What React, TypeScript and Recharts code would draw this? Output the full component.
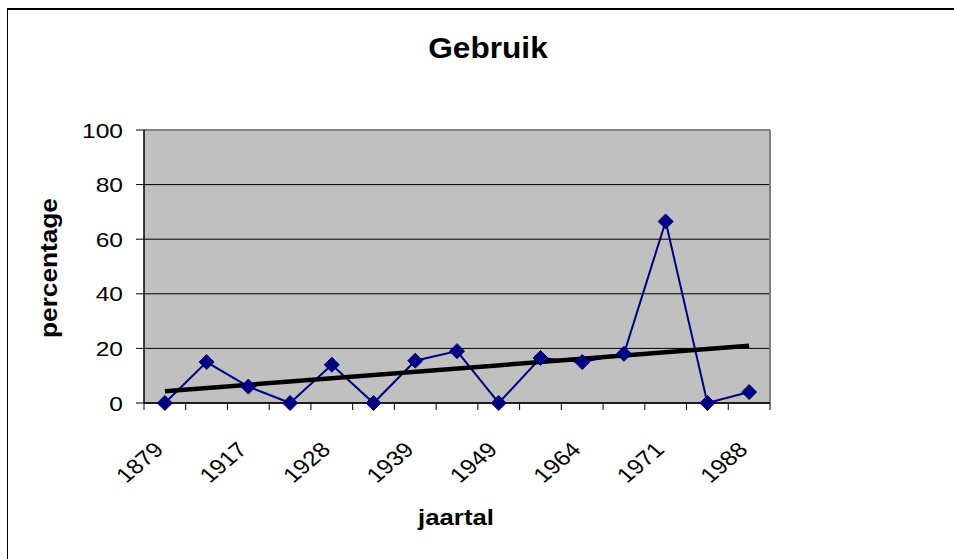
import React from "react";
import { ComposedChart, Line, XAxis, YAxis, CartesianGrid, ReferenceLine } from "recharts";

const categories = ["1879", "1905", "1917", "1922", "1928", "1934", "1939", "1945", "1949", "1958", "1964", "1968", "1971", "1980", "1988"];
const gebruik = [0, 15, 6, 0, 14, 0, 15.5, 19, 0, 16.5, 15, 18, 66.5, 0, 4];
const yTicks = [0, 20, 40, 60, 80, 100];
const labelIdx = [0, 2, 4, 6, 8, 10, 12, 14];

const n = gebruik.length;
const mx = (n - 1) / 2;
const my = gebruik.reduce((a, b) => a + b, 0) / n;
let sxy = 0, sxx = 0;
gebruik.forEach((y, i) => { sxy += (i - mx) * (y - my); sxx += (i - mx) * (i - mx); });
const slope = sxy / sxx;
const icpt = my - slope * mx;

const data = categories.map((c, i) => ({
  i,
  name: c,
  v: gebruik[i],
  trend: i === 0 || i === n - 1 ? icpt + slope * i : undefined,
}));

const boundaryTicks = Array.from({ length: n + 1 }, (_, k) => k - 0.5);
const xTicks = [...boundaryTicks, ...labelIdx].sort((a, b) => a - b);
const FONT = "Arial, 'Liberation Sans', sans-serif";
const SX = 1.17;

const Diamond = (props: any) => {
  const { cx, cy } = props;
  if (cx == null || cy == null) return null;
  const r = 7.5;
  return <path key={`d${props.index}`} d={`M${cx},${cy - r}L${cx + r},${cy}L${cx},${cy + r}L${cx - r},${cy}Z`} fill="#000080" stroke="#000080" />;
};

const XTick = (props: any) => {
  const { x, y, payload } = props;
  const v = payload.value;
  if (Math.abs(v - Math.round(v)) > 0.1) {
    return <line x1={x} y1={y} x2={x} y2={y + 7} stroke="#000" strokeWidth={1} />;
  }
  const ax = x;
  const ay = y + 48;
  return (
    <text transform={`translate(${ax}, ${ay}) scale(${SX}, 1) rotate(-45)`} x={0} y={0} textAnchor="end" fontSize={21} fontFamily={FONT} fill="#000">
      {categories[v]}
    </text>
  );
};

const YTick = (props: any) => {
  const { x, y, payload } = props;
  return (
    <text transform={`translate(${x}, ${y}) scale(${SX}, 1)`} x={0} y={0} dy="0.36em" textAnchor="end" fontSize={21} fontFamily={FONT} fill="#000">
      {payload.value}
    </text>
  );
};

export default function App() {
  return (
    <div style={{ position: "absolute", left: 0, top: 0, width: 954, height: 559, background: "#fff", overflow: "hidden" }}>
      <div style={{ position: "absolute", left: 7, top: 8, width: 960, height: 560, borderLeft: "1px solid #000", borderTop: "2px solid #000", boxSizing: "border-box" }} />
      <div style={{ position: "absolute", left: 0, top: 0 }}>
        <ComposedChart width={954} height={559} data={data} margin={{ top: 130, right: 184, bottom: 0, left: 0 }}>
          <CartesianGrid vertical={false} stroke="#000" fill="#C0C0C0" />
          <XAxis type="number" dataKey="i" domain={[-0.5, n - 0.5]} ticks={xTicks} tick={<XTick />} tickSize={0} tickMargin={0} tickLine={false} axisLine={{ stroke: "#000", strokeWidth: 1.5 }} height={156} interval={0} allowDataOverflow />
          <YAxis type="number" domain={[0, 100]} ticks={yTicks} width={144} tickSize={8} tickMargin={13} axisLine={{ stroke: "#000", strokeWidth: 1.5 }} tickLine={{ stroke: "#000" }} tick={<YTick />} interval={0} />
          <ReferenceLine y={100} stroke="#808080" strokeWidth={2} />
          <ReferenceLine x={n - 0.5} stroke="#808080" strokeWidth={2} />
          <Line dataKey="v" stroke="#000080" strokeWidth={2} dot={<Diamond />} isAnimationActive={false} />
          <Line dataKey="trend" stroke="#000" strokeWidth={4.5} dot={false} connectNulls isAnimationActive={false} />
        </ComposedChart>
      </div>
      <svg width={954} height={559} style={{ position: "absolute", left: 0, top: 0, pointerEvents: "none" }}>
        <text transform="translate(488, 58) scale(1.09, 1)" textAnchor="middle" fontFamily={FONT} fontWeight="bold" fontSize={29} fill="#000">Gebruik</text>
        <text transform="translate(456, 525) scale(1.12, 1)" textAnchor="middle" fontFamily={FONT} fontWeight="bold" fontSize={23} fill="#000">jaartal</text>
        <text transform="translate(57, 268) rotate(-90) scale(1.14, 1)" textAnchor="middle" fontFamily={FONT} fontWeight="bold" fontSize={23} fill="#000">percentage</text>
      </svg>
    </div>
  );
}
